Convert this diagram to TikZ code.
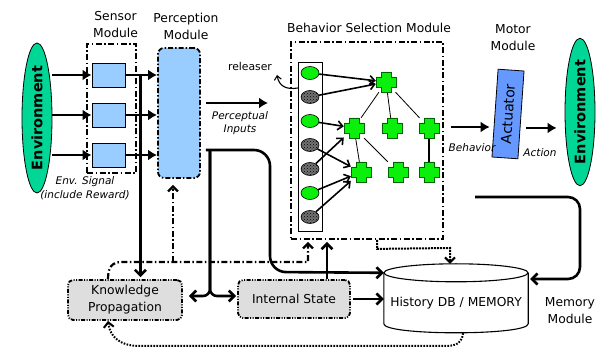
\documentclass[tikz,border=0pt]{standalone}
\usepackage{fontspec}
\setmainfont{DejaVu Sans}
\usetikzlibrary{shapes.geometric,arrows.meta,patterns,calc}
\definecolor{envgreen}{RGB}{0,214,150}
\definecolor{lblue}{RGB}{153,204,255}
\definecolor{actblue}{RGB}{102,153,255}
\definecolor{bgreen}{RGB}{10,240,10}
\definecolor{dgreen}{RGB}{0,100,0}
\definecolor{boxgray}{RGB}{222,222,222}
\begin{document}
\begin{tikzpicture}[x=1pt,y=-1pt,
  lbl/.style={font=\fontsize{12.3}{17}\selectfont, align=center, inner sep=0},
  itl/.style={font=\fontsize{10.5}{13.5}\selectfont\itshape, align=center, inner sep=0},
  envnode/.style={ellipse, draw, line width=0.8pt, fill=envgreen, rotate=90, minimum width=150pt, minimum height=30pt, inner sep=0, font=\fontsize{14.5}{16}\selectfont\bfseries},
  ddline/.style={dash pattern=on 6pt off 2.5pt on 1.5pt off 2.5pt, line width=1.8pt},
  dddline/.style={dash pattern=on 4pt off 1.5pt on 1pt off 1.5pt on 1pt off 1.5pt, line width=1.8pt},
  sensor/.style={draw, fill=lblue, line width=0.8pt, minimum width=33pt, minimum height=24pt, inner sep=0},
  gbox/.style={draw, fill=boxgray, rounded corners=5pt, dddline, lbl},
  gell/.style={ellipse, draw, line width=0.6pt, fill=bgreen, minimum width=18pt, minimum height=13pt, inner sep=0},
  dell/.style={ellipse, draw, line width=0.6pt, fill=black!55, postaction={pattern=crosshatch dots, pattern color=black}, minimum width=18pt, minimum height=13pt, inner sep=0},
  crossnode/.style={minimum width=20pt, minimum height=20pt, inner sep=0},
  crossdraw/.style={draw=dgreen, fill=bgreen, line width=0.7pt},
  flow/.style={line width=2.8pt, -{Latex[length=9pt,width=11pt]}},
  conn/.style={line width=2.6pt, -{Straight Barb[length=5.5pt,width=11pt]}},
  earrow/.style={line width=1.6pt, -{Straight Barb[length=5pt,width=9pt]}},
  treeline/.style={line width=0.8pt}
]
\useasboundingbox (0,0) rectangle (600,347);

% labels
\node[lbl] at (115.5,25) {Sensor\\Module};
\node[lbl] at (186,26) {Perception\\Module};
\node[lbl] at (369,28) {Behavior Selection Module};
\node[lbl] at (513,37.5) {Motor\\Module};
\node[lbl] at (570,310.5) {Memory\\Module};

% environments
\node[envnode] (envL) at (37,118) {Environment};
\node[envnode, minimum width=146pt] (envR) at (580,112) {Environment};

% sensor module
\node[draw, ddline, minimum width=49pt, minimum height=129pt] (sensbox) at (111.5,108.5) {};
\node[sensor] (s1) at (108.5,75) {};
\node[sensor] (s2) at (108.5,115) {};
\node[sensor] (s3) at (108.5,155) {};

% perception
\node[draw, fill=lblue, rounded corners=6pt, dash pattern=on 5pt off 2pt on 1.5pt off 2pt, line width=1.8pt, minimum width=42pt, minimum height=130pt] (perc) at (179,113) {};

% behavior selection module
\node[draw, ddline, minimum width=152pt, minimum height=197pt] (bsm) at (367,140.5) {};
\node[draw, line width=0.8pt, minimum width=24pt, minimum height=169pt] (col) at (310,146.5) {};
\node[gell] (e1) at (310,73) {};
\node[dell] (e2) at (310,97) {};
\node[gell] (e3) at (310,121) {};
\node[dell] (e4) at (310,145) {};
\node[dell] (e5) at (310,169) {};
\node[gell] (e6) at (310,193) {};
\node[dell] (e7) at (310,217) {};

\node[crossnode] (t) at (386,82) {};
\node[crossnode] (a1) at (354,128) {};
\node[crossnode] (a2) at (392,128) {};
\node[crossnode] (a3) at (429,128) {};
\node[crossnode] (b1) at (361,172) {};
\node[crossnode] (b2) at (398,172) {};
\node[crossnode] (b3) at (429,172) {};

\draw[treeline] (t) -- (a1);
\draw[treeline] (t) -- (a2);
\draw[treeline] (t) -- (a3);
\draw[treeline] (a1) -- (b1);
\draw[treeline] (a1) -- (b2);
\draw[line width=1.4pt] (a3) -- (b3);

\foreach \n in {t,a1,a2,a3,b1,b2,b3}
  \draw[crossdraw, shift={(\n.center)}] (-5,-10) -- (5,-10) -- (5,-5) -- (10,-5) -- (10,5) -- (5,5) -- (5,10) -- (-5,10) -- (-5,5) -- (-10,5) -- (-10,-5) -- (-5,-5) -- cycle;

\draw[earrow] (e1) -- (t);
\draw[earrow] (e2) -- (t);
\draw[earrow] (e3) -- (a1);
\draw[earrow] (e5) -- (a1);
\draw[earrow] (e4) -- (b1);
\draw[earrow] (e6) -- (b1);
\draw[earrow] (e7) -- (b1);

% releaser
\node[itl, font=\fontsize{10.8}{13}\selectfont] at (250,66) {releaser};
\coordinate (relStart) at (298,88);
\coordinate (relEnd) at (277,75);
\draw[line width=1.1pt, -{Straight Barb[length=4pt,width=7pt]}] (relStart) .. controls (286,90) and (279,86) .. (relEnd);

% actuator
\node[draw, fill=actblue, line width=0.8pt, rotate=86, minimum width=88pt, minimum height=26pt, inner sep=0, font=\fontsize{14}{16}\selectfont] (act) at (508,114) {Actuator};

% lower boxes
\node[gbox, minimum width=114pt, minimum height=40pt] (kp) at (125,300) {Knowledge\\Propagation};
\node[gbox, minimum width=112pt, minimum height=38pt] (ist) at (294,299) {Internal State};

% history DB cylinder
\node[lbl, minimum width=144pt, minimum height=60pt] (db) at (456,303) {History DB / MEMORY};
\draw[line width=1.1pt] (db.north west) -- ($(db.north west)+(0,51)$) .. controls ($(db.north west)+(0,63)$) and ($(db.north east)+(0,63)$) .. ($(db.north east)+(0,51)$) -- (db.north east);
\draw[line width=1.1pt] (db.north) ellipse [x radius=72pt, y radius=9pt];

% italic labels
\node[itl] at (85,188) {Env. Signal\\(include Reward)};
\node[itl, font=\fontsize{10.5}{13}\selectfont\itshape] at (240,123.5) {Perceptual\\Inputs};
\node[itl] at (472,148) {Behavior};
\node[itl] at (540,153) {Action};

% main flow arrows
\draw[flow] (s1.west -| envL.south) -- (s1.west);
\draw[flow] (s2.west -| envL.south) -- (s2.west);
\draw[flow] (s3.west -| envL.south) -- (s3.west);
\draw[flow] (s1.east) -- (s1.east -| perc.west);
\draw[flow] (s2.east) -- (s2.east -| perc.west);
\draw[flow] (s3.east) -- (s3.east -| perc.west);
\coordinate (pinEnd) at (268,103);
\draw[flow] ([shift={(5,-10)}]perc.east) -- (pinEnd);
\draw[flow] ([shift={(7,-13.5)}]bsm.east) coordinate (bA) -- ([xshift=-5pt]bA -| act.north);
\draw[flow] ([shift={(5,13)}]act.south) coordinate (aA) -- ([xshift=-8pt]aA -| envR.north);

% sensor to knowledge propagation
\draw[conn] ([xshift=15pt]s1.east) coordinate (vtop) -- ([yshift=2pt]vtop |- kp.north);

% perception outputs
\coordinate (pr) at ([shift={(5,37)}]perc.east);
\coordinate (fork) at (210,296);
\draw[conn, rounded corners=16pt] (pr) -- (270,150) -- (270,272) -- (db.north west);
\draw[conn, rounded corners=7pt] (pr -| fork) -- (fork) -- ([xshift=6pt]kp.east |- fork);
\draw[conn, rounded corners=7pt] (pr -| fork) -- (fork) -- ([xshift=-1pt]ist.west |- fork);

% internal state
\draw[conn] ([xshift=2pt]ist.east) -- (ist.east -| db.west);
\draw[conn] ([xshift=33pt]ist.north) coordinate (iu) -- ([yshift=-2pt]iu |- bsm.south);

% knowledge propagation dash-dot feedback
\coordinate (dd1) at (308,262);
\coordinate (dd2) at (173,262);
\draw[ddline, line width=2.2pt, -{Straight Barb[length=5pt,width=10pt]}] ([xshift=-17pt]kp.north) .. controls (108,267) and (112,262) .. (122,262) -- (dd1) -- ([yshift=-2pt]dd1 |- bsm.south);
\draw[ddline, line width=2.2pt, -{Straight Barb[length=5pt,width=10pt]}] (dd2) -- ([yshift=-6pt]dd2 |- perc.south);

% behavior to memory (dotted)
\coordinate (dbTop) at ($(db.north)+(0,-9)$);
\draw[dash pattern=on 2pt off 1pt, line width=2pt, -{Straight Barb[length=5pt,width=10pt]}] ([xshift=10pt]bsm.south) -- ++(0,9) -- ([xshift=-6pt]dbTop |- 0,248) -- ([xshift=-6pt]dbTop);

% action feedback into memory
\coordinate (rl) at (475,197);
\coordinate (rly) at (580,279);
\draw[conn, rounded corners=12pt] (rl) -- (580,197) -- (rly) -- ([xshift=2pt]rly -| db.east);

% memory to knowledge propagation (dotted)
\draw[dash pattern=on 1.6pt off 1.4pt, line width=2pt, -{Straight Barb[length=5pt,width=10pt]}] ($(db.south)+(7,0)$) .. controls (462,342) and (458,346) .. (445,346) -- (140,346) .. controls (120,346) and (110,337) .. ([xshift=-17pt]kp.south);
\end{tikzpicture}
\end{document}
